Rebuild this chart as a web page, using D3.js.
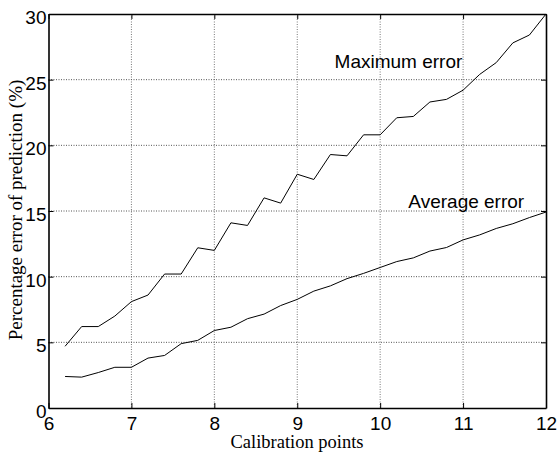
<!DOCTYPE html>
<html>
<head>
<meta charset="utf-8">
<script src="https://cdn.jsdelivr.net/npm/d3@7"></script>
<style>
  body { margin: 0; background: #fff; }
  .axis text { font-family: 'Liberation Sans', Arial, sans-serif; font-size: 19px; fill: #000; }
  .axis line, .axis path { stroke: #000; }
</style>
</head>
<body>
<div id="chart"></div>
<script>
// calibration points (x values)
var points = [6.2, 6.4, 6.6, 6.8, 7.0, 7.2, 7.4, 7.6, 7.8, 8.0,
  8.2, 8.4, 8.6, 8.8, 9.0, 9.2, 9.4, 9.6, 9.8, 10.0,
  10.2, 10.4, 10.6, 10.8, 11.0, 11.2, 11.4, 11.6, 11.8, 12.0]
var maxError = [4.7, 6.2, 6.2, 7.0, 8.1, 8.6, 10.2, 10.2, 12.2, 12.0,
  14.1, 13.9, 16.0, 15.6, 17.8, 17.4, 19.3, 19.2, 20.8, 20.8,
  22.1, 22.2, 23.3, 23.5, 24.2, 25.4, 26.3, 27.8, 28.4, 30.0]
var avgError = [2.4, 2.35, 2.7, 3.1, 3.1, 3.8, 4.0, 4.9, 5.15, 5.9,
  6.15, 6.8, 7.15, 7.8, 8.27, 8.9, 9.3, 9.85, 10.25, 10.7,
  11.15, 11.43, 11.95, 12.22, 12.8, 13.18, 13.67, 14.03, 14.5, 14.92]
var xTicks = [6, 7, 8, 9, 10, 11, 12]
var yTicks = [0, 5, 10, 15, 20, 25, 30]

var margin = { top: 14, right: 13, bottom: 44, left: 48.5 }
var width = 559 - margin.left - margin.right
var height = 452 - margin.top - margin.bottom

var root = d3.select('#chart')
  .append('svg')
  .attr('width', 559)
  .attr('height', 452)

var svg = root.append('g')
  .attr('transform', 'translate(' + margin.left + ',' + margin.top + ')')

var xScale = d3.scaleLinear().domain([6, 12]).range([0, width])
var yScale = d3.scaleLinear().domain([0, 30]).range([height, 0])

// dotted grid
svg.selectAll('.vgrid')
  .data(xTicks.slice(1, -1))
  .enter()
  .append('line')
  .attr('x1', d => xScale(d))
  .attr('x2', d => xScale(d))
  .attr('y1', 0)
  .attr('y2', height)
  .attr('stroke', '#777')
  .attr('stroke-dasharray', '1,1.5')
svg.selectAll('.hgrid')
  .data(yTicks.slice(1, -1))
  .enter()
  .append('line')
  .attr('x1', 0)
  .attr('x2', width)
  .attr('y1', d => yScale(d))
  .attr('y2', d => yScale(d))
  .attr('stroke', '#555')
  .attr('stroke-dasharray', '1,1.5')

// axes, ticks pointing inward
svg.append('g')
  .attr('class', 'axis')
  .attr('transform', 'translate(0,' + height + ')')
  .call(d3.axisBottom(xScale).tickValues(xTicks).tickFormat(d3.format('d'))
    .tickSizeInner(-5).tickSizeOuter(0).tickPadding(9))
svg.append('g')
  .attr('class', 'axis')
  .call(d3.axisLeft(yScale).tickValues(yTicks).tickSizeInner(-5).tickSizeOuter(0).tickPadding(2))
  .selectAll('text').attr('dy', 9.4)
svg.append('g')
  .attr('class', 'axis')
  .call(d3.axisTop(xScale).tickValues(xTicks).tickSizeInner(-5).tickSizeOuter(0).tickFormat(''))
svg.append('g')
  .attr('class', 'axis')
  .attr('transform', 'translate(' + width + ',0)')
  .call(d3.axisRight(yScale).tickValues(yTicks).tickSizeInner(-5).tickSizeOuter(0).tickFormat(''))
svg.selectAll('.axis .domain').attr('stroke-width', 1.6)

// lines
var line = d3.line()
  .x(d => xScale(d[0]))
  .y(d => yScale(d[1]))

svg.append('path')
  .datum(d3.zip(points, maxError))
  .attr('d', line)
  .attr('fill', 'none')
  .attr('stroke', '#000')
  .attr('stroke-width', 1)
svg.append('path')
  .datum(d3.zip(points, avgError))
  .attr('d', line)
  .attr('fill', 'none')
  .attr('stroke', '#000')
  .attr('stroke-width', 1)

// annotations
svg.append('text')
  .attr('x', xScale(9.45))
  .attr('y', yScale(25.9))
  .attr('font-family', "'Liberation Sans', Arial, sans-serif")
  .attr('font-size', 19)
  .text('Maximum error')
svg.append('text')
  .attr('x', xScale(10.34))
  .attr('y', yScale(15.26))
  .attr('font-family', "'Liberation Sans', Arial, sans-serif")
  .attr('font-size', 19)
  .text('Average error')

// axis titles
root.append('text')
  .attr('x', 297)
  .attr('y', 447.5)
  .attr('text-anchor', 'middle')
  .attr('font-family', "'Liberation Serif', 'Times New Roman', serif")
  .attr('font-size', 18.5)
  .text('Calibration points')
root.append('text')
  .attr('transform', 'translate(21.5,210) rotate(-90)')
  .attr('text-anchor', 'middle')
  .attr('font-family', "'Liberation Serif', 'Times New Roman', serif")
  .attr('font-size', 19)
  .text('Percentage error of prediction (%)')
</script>
</body>
</html>
